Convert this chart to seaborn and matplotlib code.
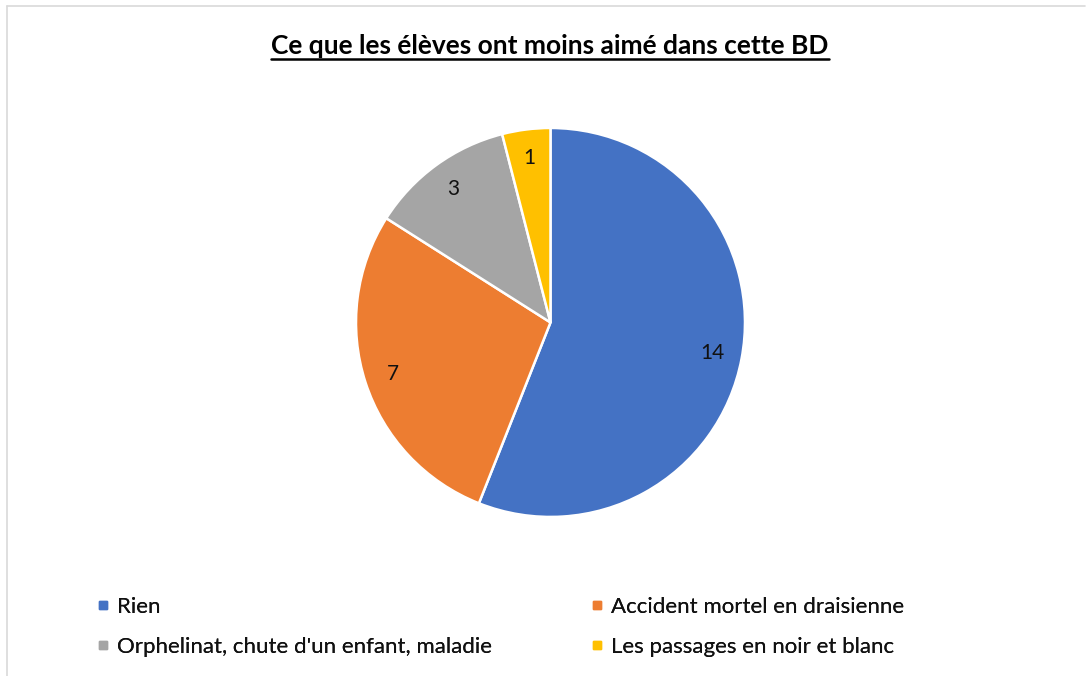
import matplotlib.pyplot as plt
from matplotlib.lines import Line2D
import seaborn as sns

sns.set_theme(style="white")
plt.rcParams["font.family"] = ["Lato", "DejaVu Sans"]

# data
labels = ["Rien", "Accident mortel en draisienne",
          "Orphelinat, chute d'un enfant, maladie", "Les passages en noir et blanc"]
counts = [14, 7, 3, 1]
colors = ["#4472C4", "#ED7D31", "#A5A5A5", "#FFC000"]
title = "Ce que les élèves ont moins aimé dans cette BD"

fig = plt.figure(figsize=(10.86, 6.76), dpi=100)

# pie, centred at about (550, 322) px with radius ~194 px
ax = fig.add_axes([0.3278, 0.2353, 0.3582, 0.5754])
total = sum(counts)
ax.pie(counts, colors=colors, startangle=90, counterclock=False, radius=1,
       autopct=lambda p: "{:.0f}".format(p * total / 100), pctdistance=0.85,
       wedgeprops=dict(edgecolor="white", linewidth=1.8),
       textprops=dict(fontsize=15, color="#111111"))
ax.set_xlim(-1, 1)
ax.set_ylim(-1, 1)
ax.set_aspect("equal")
ax.axis("off")

# title with underline
t = fig.text(0.5066, 0.932, title, ha="center", va="center",
             fontsize=19, fontweight="bold", color="black")
fig.canvas.draw()
bb = t.get_window_extent().transformed(fig.transFigure.inverted())
fig.add_artist(Line2D([bb.x0, bb.x1], [bb.y0 - 0.001, bb.y0 - 0.001],
                      transform=fig.transFigure, color="black", linewidth=1.8))

# legend, two columns
def handle(c):
    return Line2D([], [], marker="s", linestyle="none", markersize=6,
                  markerfacecolor=c, markeredgecolor=c)

col1 = [0, 2]
col2 = [1, 3]
for idx, x in [(col1, 0.0889), (col2, 0.5437)]:
    leg = fig.legend([handle(colors[i]) for i in idx], [labels[i] for i in idx],
                     loc="upper left", bbox_to_anchor=(x, 0.1176),
                     frameon=False, fontsize=16, handlelength=0.6,
                     handletextpad=0.34, labelspacing=0.93, borderaxespad=0,
                     borderpad=0)
    for txt in leg.get_texts():
        txt.set_color("#111111")
    fig.add_artist(leg)

# thin chart border (top and left visible)
fig.add_artist(Line2D([0.0065, 0.999], [0.991, 0.991], transform=fig.transFigure,
                      color="#D9D9D9", linewidth=1.2))
fig.add_artist(Line2D([0.0065, 0.0065], [0.0, 0.991], transform=fig.transFigure,
                      color="#D9D9D9", linewidth=1.2))

fig.savefig("out.png", dpi=100)
